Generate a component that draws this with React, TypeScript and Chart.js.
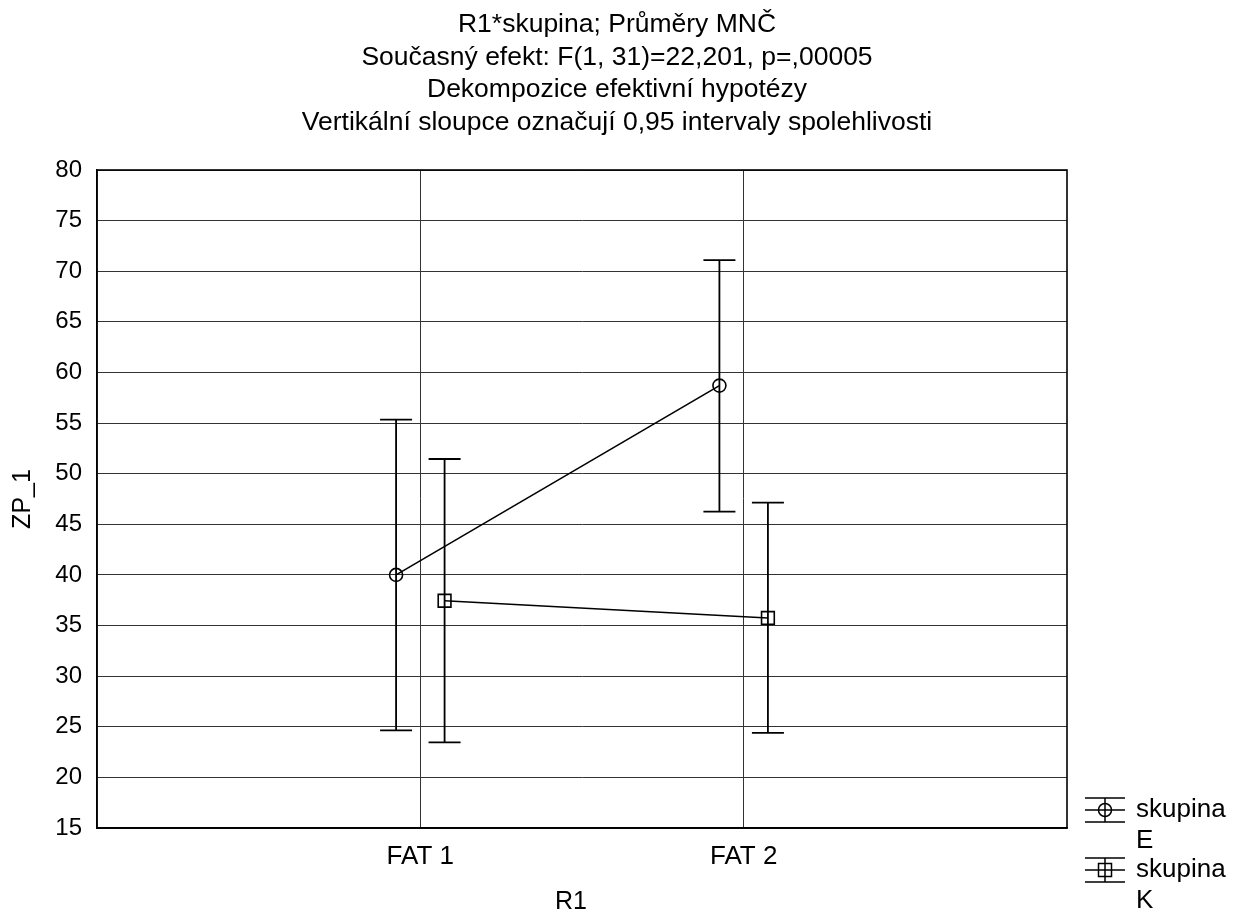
import React, { useEffect, useRef } from "react";
import { Chart, registerables } from "chart.js";

Chart.register(...registerables);

const titleLines = [
  "R1*skupina; Průměry MNČ",
  "Současný efekt: F(1, 31)=22,201, p=,00005",
  "Dekompozice efektivní hypotézy",
  "Vertikální sloupce označují 0,95 intervaly spolehlivosti",
];
const categories = ["FAT 1", "FAT 2"];
const groupNames = ["skupina E", "skupina K"];
const legendLines = [
  ["skupina", "E"],
  ["skupina", "K"],
];
const meansE = [40.0, 58.7];
const upperE = [55.35, 71.1];
const lowerE = [24.65, 46.25];
const meansK = [37.45, 35.75];
const upperK = [51.45, 47.15];
const lowerK = [23.45, 24.4];
const groupOffsets = [-0.075, 0.075];
const yMin = 15;
const yMax = 80;
const yStep = 5;
const xAxisTitle = "R1";
const yAxisTitle = "ZP_1";

const FONT = "'Liberation Sans', Arial, sans-serif";

const makePoints = (means: number[], offset: number) =>
  means.map((m, i) => ({ x: i + 1 + offset, y: m }));

const textPlugin = {
  id: "textBits",
  afterDraw(chart: any) {
    const { ctx, width, chartArea } = chart;
    ctx.save();
    ctx.fillStyle = "#000";
    ctx.font = `26.5px ${FONT}`;
    ctx.textAlign = "center";
    ctx.textBaseline = "middle";
    titleLines.forEach((t, i) => {
      ctx.fillText(t, width / 2, 25 + i * 32.5);
    });
    ctx.font = `25px ${FONT}`;
    ctx.fillText(xAxisTitle, (chartArea.left + chartArea.right) / 2 - 11, 902);
    ctx.restore();
  },
};

const errorBarPlugin = {
  id: "errorBars",
  afterDatasetsDraw(chart: any) {
    const { ctx } = chart;
    const xs = chart.scales.x;
    const ys = chart.scales.y;
    ctx.save();
    ctx.strokeStyle = "#000";
    ctx.lineWidth = 1.8;
    chart.data.datasets.forEach((ds: any) => {
      ds.data.forEach((p: any, i: number) => {
        const x = xs.getPixelForValue(p.x);
        const yu = ys.getPixelForValue(ds.errUpper[i]);
        const yl = ys.getPixelForValue(ds.errLower[i]);
        const cap = 16;
        ctx.beginPath();
        ctx.moveTo(x, yu);
        ctx.lineTo(x, yl);
        ctx.moveTo(x - cap, yu);
        ctx.lineTo(x + cap, yu);
        ctx.moveTo(x - cap, yl);
        ctx.lineTo(x + cap, yl);
        ctx.stroke();
      });
    });
    ctx.restore();
  },
};

const framePlugin = {
  id: "frame",
  afterDraw(chart: any) {
    const { ctx, chartArea } = chart;
    ctx.save();
    ctx.strokeStyle = "#000";
    ctx.lineWidth = 1.6;
    ctx.strokeRect(
      chartArea.left,
      chartArea.top,
      chartArea.right - chartArea.left,
      chartArea.bottom - chartArea.top
    );
    ctx.restore();
  },
};

const legendPlugin = {
  id: "customLegend",
  afterDraw(chart: any) {
    const { ctx, chartArea } = chart;
    const x0 = chartArea.right + 18;
    const x1 = chartArea.right + 58;
    const cx = (x0 + x1) / 2;
    const textX = chartArea.right + 69;
    const baseY = chartArea.bottom - 18;
    ctx.save();
    ctx.strokeStyle = "#000";
    ctx.fillStyle = "#000";
    ctx.lineWidth = 1.5;
    ctx.font = `26px ${FONT}`;
    ctx.textBaseline = "middle";
    ctx.textAlign = "left";
    chart.data.datasets.forEach((ds: any, i: number) => {
      const cy = baseY + i * 60;
      ctx.beginPath();
      ctx.moveTo(x0, cy - 12);
      ctx.lineTo(x1, cy - 12);
      ctx.moveTo(x0, cy);
      ctx.lineTo(x1, cy);
      ctx.moveTo(x0, cy + 12);
      ctx.lineTo(x1, cy + 12);
      ctx.moveTo(cx, cy - 12);
      ctx.lineTo(cx, cy + 12);
      ctx.stroke();
      ctx.beginPath();
      if (ds.pointStyle === "circle") {
        ctx.arc(cx, cy, 6.5, 0, Math.PI * 2);
      } else {
        ctx.rect(cx - 6.5, cy - 6.5, 13, 13);
      }
      ctx.stroke();
      const lines = legendLines[i];
      lines.forEach((t: string, j: number) => {
        ctx.fillText(t, textX, cy + j * 31);
      });
    });
    ctx.restore();
  },
};

export default function App() {
  const ref = useRef<HTMLCanvasElement | null>(null);
  useEffect(() => {
    document.body.style.margin = "0";
    if (!ref.current) return;
    const chart = new Chart(ref.current, {
      type: "line",
      data: {
        datasets: [
          {
            label: groupNames[0],
            data: makePoints(meansE, groupOffsets[0]),
            errUpper: upperE,
            errLower: lowerE,
            borderColor: "#000",
            borderWidth: 1.6,
            pointStyle: "circle",
            pointRadius: 6.5,
            pointBorderWidth: 1.6,
            pointBorderColor: "#000",
            pointBackgroundColor: "rgba(0,0,0,0)",
          } as any,
          {
            label: groupNames[1],
            data: makePoints(meansK, groupOffsets[1]),
            errUpper: upperK,
            errLower: lowerK,
            borderColor: "#000",
            borderWidth: 1.6,
            pointStyle: "rect",
            pointRadius: 9,
            pointBorderWidth: 1.6,
            pointBorderColor: "#000",
            pointBackgroundColor: "rgba(0,0,0,0)",
          } as any,
        ],
      },
      options: {
        responsive: false,
        animation: false,
        layout: { padding: { top: 170, right: 167, bottom: 0, left: 0 } },
        plugins: {
          legend: { display: false },
          tooltip: { enabled: false },
          title: { display: false },
        },
        scales: {
          x: {
            type: "linear",
            min: 0,
            max: categories.length + 1,
            afterBuildTicks: (scale: any) => {
              scale.ticks = categories.map((_, i) => ({ value: i + 1 }));
            },
            afterFit: (scale: any) => {
              scale.height = 84;
            },
            grid: { color: "#333", lineWidth: 1, drawTicks: false },
            border: { display: true, color: "#000", width: 1.6 },
            ticks: {
              color: "#000",
              padding: 13,
              maxRotation: 0,
              autoSkip: false,
              font: { family: FONT, size: 26 },
              callback: (v: any) => categories[Math.round(Number(v)) - 1] ?? "",
            },
            title: { display: false },
          },
          y: {
            type: "linear",
            min: yMin,
            max: yMax,
            afterFit: (scale: any) => {
              scale.width = 97;
            },
            grid: { color: "#333", lineWidth: 1, drawTicks: false },
            border: { display: true, color: "#000", width: 1.6 },
            ticks: {
              stepSize: yStep,
              color: "#000",
              padding: 15,
              font: { family: FONT, size: 24 },
            },
            title: {
              display: true,
              text: yAxisTitle,
              color: "#000",
              font: { family: FONT, size: 25, lineHeight: 1.2 },
              padding: { top: 8, bottom: 0 },
            },
          },
        },
      } as any,
      plugins: [errorBarPlugin, framePlugin, legendPlugin, textPlugin],
    });
    return () => chart.destroy();
  }, []);
  return (
    <canvas
      ref={ref}
      width={1234}
      height={912}
      style={{ display: "block", width: 1234, height: 912 }}
    />
  );
}
